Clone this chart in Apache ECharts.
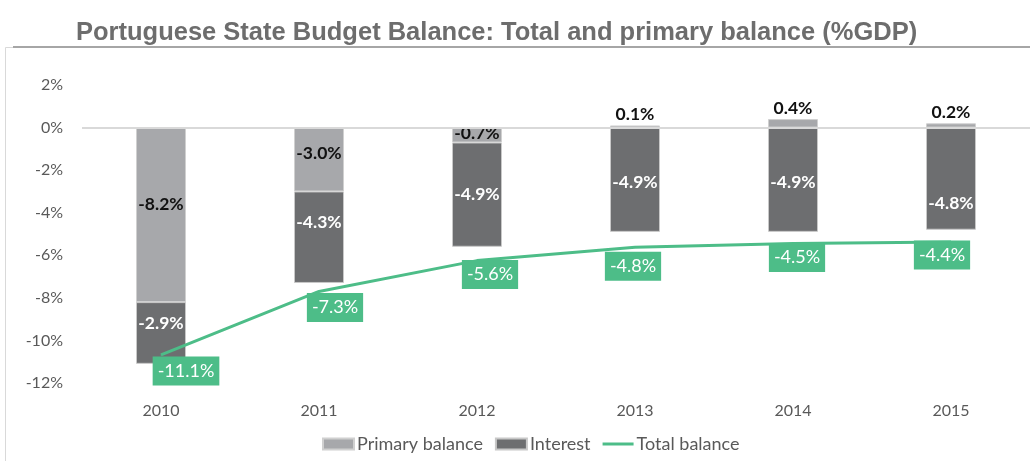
<!DOCTYPE html>
<html>
<head>
<meta charset="utf-8">
<script src="https://cdn.jsdelivr.net/npm/echarts@6/dist/echarts.min.js"></script>
<style>
html,body{margin:0;padding:0;background:#fff;}
#chart{width:1030px;height:461px;}
</style>
</head>
<body>
<div id="chart"></div>
<script>
var categories = ['2010', '2011', '2012', '2013', '2014', '2015'];
var primaryBalance = [-8.2, -3.0, -0.7, 0.1, 0.4, 0.2];
var interest = [-2.9, -4.3, -4.9, -4.9, -4.9, -4.8];
// total balance line as drawn in the picture
var totalBalanceLine = [-10.68, -7.7, -6.25, -5.62, -5.45, -5.38];
// total balance as labelled in the picture
var totalBalanceLabels = [-11.1, -7.3, -5.6, -4.8, -4.5, -4.4];
var yTicks = [2, 0, -2, -4, -6, -8, -10, -12];

var FONT = 'Lato, "Open Sans", sans-serif';
var TXT = '#595959';
var GREEN = '#4dbd88';

var primaryOffsets = [[0, -10], [0, -6], [0, -2], [0, 0], [0, 0], [0, 0]];
var interestOffsets = [[0, -10], [0, -15], [0, 0], [0, 3], [0, 3], [0, 25]];
var lineOffsets = [[25, 16], [16, 16], [13, 14], [-2, 19], [4, 14], [-9, 13]];

function pct(v) { return v.toFixed(1) + '%'; }

var chart = echarts.init(document.getElementById('chart'), null, {renderer: 'canvas'});
var option = {
  animation: false,
  backgroundColor: '#fff',
  title: {
    text: 'Portuguese State Budget Balance: Total and primary balance (%GDP)',
    left: 71, top: 15,
    textStyle: {fontFamily: '"Liberation Sans", Arial, sans-serif', fontWeight: 'bold', fontSize: 25.5, color: '#6d6d6d'}
  },
  graphic: [
    {type: 'rect', shape: {x: 5.5, y: 47.5, width: 1040, height: 430}, style: {fill: null, stroke: '#d9d9d9', lineWidth: 1}, silent: true, z: -1},
    {type: 'line', shape: {x1: 13, y1: 47, x2: 1030, y2: 47}, style: {stroke: '#a6a6a6', lineWidth: 2}, silent: true, z: -1}
  ],
  legend: {
    bottom: 3,
    left: 317,
    itemWidth: 31, itemHeight: 11, itemGap: 12,
    textStyle: {fontFamily: FONT, fontSize: 18, color: TXT, padding: [0, 0, 0, -2]},
    data: [
      {name: 'Primary balance', icon: 'rect'},
      {name: 'Interest', icon: 'rect'},
      {name: 'Total balance', icon: 'path://M0,4 L31,4 L31,7 L0,7 Z', itemStyle: {color: GREEN, opacity: 1}}
    ]
  },
  grid: {left: 82, width: 950, top: 85, height: 298, containLabel: false},
  xAxis: {
    type: 'category',
    data: categories,
    axisLine: {show: false},
    axisTick: {show: false},
    axisLabel: {fontFamily: FONT, fontSize: 16, color: TXT, margin: 20},
    position: 'bottom'
  },
  yAxis: {
    type: 'value',
    min: -12, max: 2, interval: 2,
    axisLine: {show: false},
    axisTick: {show: false},
    splitLine: {show: false},
    axisLabel: {fontFamily: FONT, fontSize: 16, color: TXT, margin: 19,
      formatter: function (v) { return v + '%'; }}
  },
  series: [
    {
      name: 'Primary balance',
      type: 'bar',
      stack: 'b',
      barWidth: 50,
      itemStyle: {color: '#a7a8ab', borderColor: '#d0d0d0', borderWidth: 1},
      data: primaryBalance.map(function (v, i) {
        return {
          value: v,
          label: {position: v >= 0 ? 'top' : 'inside', offset: primaryOffsets[i], distance: 2}
        };
      }),
      label: {show: true, fontFamily: FONT, fontWeight: 'bold', fontSize: 17.5, color: '#111',
        formatter: function (p) { return pct(p.value); }},
      markLine: {
        silent: true, symbol: 'none',
        label: {show: false},
        lineStyle: {color: '#d9d9d9', width: 2, type: 'solid'},
        data: [{yAxis: 0}]
      }
    },
    {
      name: 'Interest',
      type: 'bar',
      stack: 'b',
      barWidth: 50,
      itemStyle: {color: '#6d6e70', borderColor: '#c8c8c8', borderWidth: 1},
      data: interest.map(function (v, i) {
        return {value: v, label: {offset: interestOffsets[i]}};
      }),
      label: {show: true, position: 'inside', fontFamily: FONT, fontWeight: 'bold', fontSize: 17.5, color: '#fff',
        formatter: function (p) { return pct(p.value); }}
    },
    {
      name: 'Total balance',
      type: 'line',
      z: 5,
      symbol: 'circle',
      symbolSize: 1,
      showSymbol: true,
      itemStyle: {color: GREEN},
      lineStyle: {color: GREEN, width: 3},
      data: totalBalanceLine.map(function (v, i) {
        return {value: v, label: {offset: lineOffsets[i]}};
      }),
      label: {
        show: true, position: 'inside',
        fontFamily: FONT, fontSize: 18, color: '#fff',
        backgroundColor: GREEN, padding: [6, 5, 5, 5],
        formatter: function (p) { return pct(totalBalanceLabels[p.dataIndex]); }
      }
    }
  ]
};
chart.setOption(option);
</script>
</body>
</html>
